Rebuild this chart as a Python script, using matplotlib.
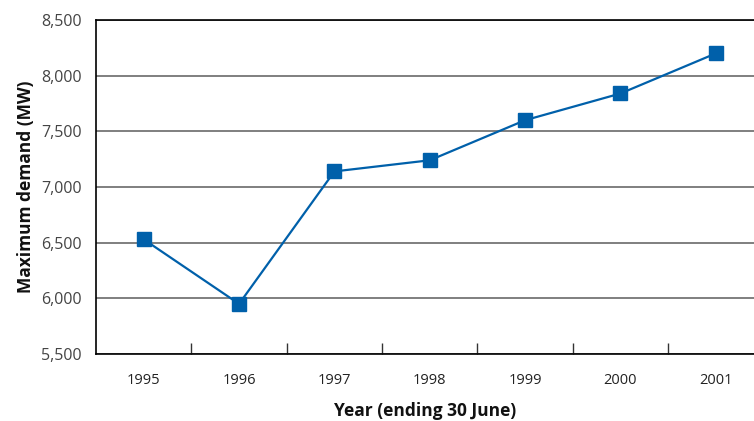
import matplotlib
matplotlib.use("Agg")
import matplotlib.pyplot as plt
from matplotlib.ticker import FuncFormatter, FixedLocator

years = ["1995", "1996", "1997", "1998", "1999", "2000", "2001"]
max_demand_mw = [6530, 5950, 7140, 7240, 7600, 7840, 8200]
y_ticks = [5500, 6000, 6500, 7000, 7500, 8000, 8500]

plt.rcParams["font.family"] = ["Open Sans", "DejaVu Sans"]

fig = plt.figure(figsize=(7.54, 4.21), dpi=100)
ax = fig.add_axes([96 / 754, 1 - 354 / 421, 1 - 96 / 754, (354 - 20) / 421])

x = list(range(len(years)))
blue = "#0060AA"
ax.plot(x, max_demand_mw, color=blue, linewidth=1.6, marker="s",
        markersize=10, markerfacecolor=blue, markeredgecolor=blue, zorder=3,
        clip_on=False)

ax.set_ylim(y_ticks[0], y_ticks[-1])
ax.set_xlim(-0.5, len(years) - 0.6)
ax.set_yticks(y_ticks)
ax.yaxis.set_major_formatter(FuncFormatter(lambda v, p: f"{int(v):,}"))
ax.grid(axis="y", color="#6a6a6a", linewidth=1.2)
ax.set_axisbelow(True)

# category labels centred, separator ticks between categories
ax.set_xticks(x)
ax.set_xticklabels(years)
ax.xaxis.set_minor_locator(FixedLocator([i + 0.5 for i in x[:-1]]))
ax.tick_params(axis="x", which="major", length=0, pad=14, labelsize=10.5,
               labelcolor="#222222")
ax.tick_params(axis="x", which="minor", direction="in", length=8,
               width=1.0, color="#333333")
ax.tick_params(axis="y", length=0, pad=10, labelsize=11.5, labelcolor="#444444")

for side in ("left", "bottom", "top"):
    ax.spines[side].set_color("black")
    ax.spines[side].set_linewidth(1.2)
ax.spines["right"].set_visible(False)

ax.set_ylabel("Maximum demand (MW)", fontsize=12.5, fontweight="bold",
              color="#111111", labelpad=5)
ax.set_xlabel("Year (ending 30 June)", fontsize=12.5, fontweight="bold",
              color="#111111", labelpad=10)

fig.savefig("out.png", dpi=100)
